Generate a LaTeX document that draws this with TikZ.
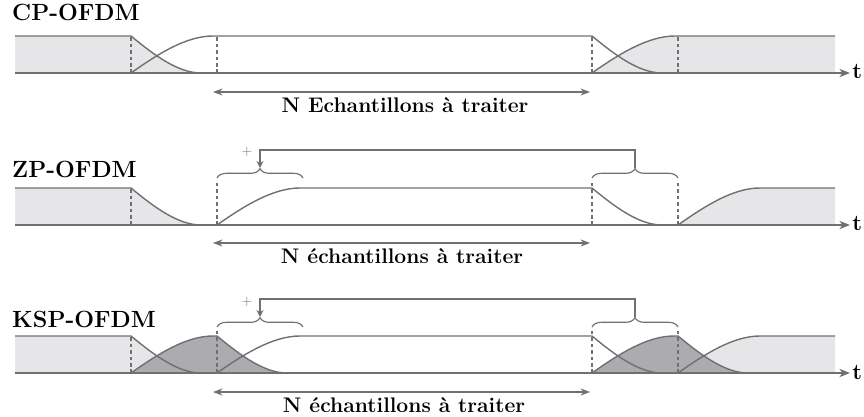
\documentclass[tikz,border=0pt]{standalone}
\usepackage{tikz}
\usetikzlibrary{arrows.meta,decorations.pathreplacing,positioning}

\definecolor{lightfill}{RGB}{230,230,232}
\definecolor{darkfill}{RGB}{172,172,176}
\definecolor{linegray}{RGB}{112,112,112}

\begin{document}
\begin{tikzpicture}[x=0.3mm,y=0.3mm,
        envelope/.style={draw=linegray,line width=1.2pt},
        cutline/.style={draw=linegray,line width=1.4pt,dash pattern=on 3pt off 2.5pt},
        timeaxis/.style={draw=linegray,line width=1.2pt,-{Stealth[length=9pt,width=7pt,inset=2.5pt]}},
        spanarrow/.style={draw=linegray,line width=1.2pt,
            {Stealth[length=8pt,width=6pt,inset=2.5pt]}-{Stealth[length=8pt,width=6pt,inset=2.5pt]}},
        curly/.style={draw=linegray,line width=1pt,decorate,decoration={brace,amplitude=8pt}},
        feedback/.style={draw=linegray,line width=1.2pt,-{Stealth[length=6pt,width=6pt,inset=2pt]}},
        rowlabel/.style={font=\fontsize{20}{22}\selectfont\bfseries,anchor=west,inner sep=0pt},
        spanlabel/.style={font=\fontsize{18}{20}\selectfont\bfseries,inner sep=0pt},
        tlabel/.style={font=\fontsize{19}{21}\selectfont\bfseries,anchor=west,inner sep=0pt},
        plus/.style={font=\large,text=linegray,inner sep=0pt}]
    \useasboundingbox (0,0) rectangle (864,416);

    % CP-OFDM
    \begin{scope}[shift={(0,343)},name prefix=cp-]
        \fill[lightfill] (15,0) -- (15,37) -- (131,37) .. controls +(23,-19) and +(-23,0) .. (201,0) -- cycle;
        \fill[lightfill] (592,0) .. controls +(27,19) and +(-27,0) .. (675,37) -- (835,37) -- (835,0) -- cycle;
        \draw[envelope] (15,37) -- (131,37) .. controls +(23,-19) and +(-23,0) .. (201,0);
        \draw[envelope] (131,0) .. controls +(27,19) and +(-27,0) .. (213,37) -- (592,37)
            .. controls +(23,-19) and +(-23,0) .. (662,0);
        \draw[envelope] (592,0) .. controls +(27,19) and +(-27,0) .. (675,37) -- (835,37);
        \foreach \x in {131,217,592,678}
            \draw[cutline] (\x,0) -- (\x,37);
        \coordinate (t0) at (15,0);
        \coordinate (t1) at (850,0);
        \draw[timeaxis] (t0) -- (t1);
        \node[tlabel] (t) at (852,1) {t};
        \node[rowlabel] (name) at (12,61) {CP-OFDM};
        \coordinate (n0) at (213,-19);
        \coordinate (n1) at (590,-19);
        \draw[spanarrow] (n0) -- (n1);
        \node[spanlabel] (n) at (405,-32) {N Echantillons à traiter};
    \end{scope}

    % ZP-OFDM
    \begin{scope}[shift={(0,191)},name prefix=zp-]
        \fill[lightfill] (15,0) -- (15,37) -- (131,37) .. controls +(23,-19) and +(-23,0) .. (201,0) -- cycle;
        \fill[lightfill] (678,0) .. controls +(27,19) and +(-27,0) .. (760,37) -- (835,37) -- (835,0) -- cycle;
        \draw[envelope] (15,37) -- (131,37) .. controls +(23,-19) and +(-23,0) .. (201,0);
        \draw[envelope] (217,0) .. controls +(27,19) and +(-27,0) .. (300,37) -- (592,37)
            .. controls +(23,-19) and +(-23,0) .. (662,0);
        \draw[envelope] (678,0) .. controls +(27,19) and +(-27,0) .. (760,37) -- (835,37);
        \draw[cutline] (131,0) -- (131,37);
        \foreach \x in {217,592,678}
            \draw[cutline] (\x,0) -- (\x,44);
        \coordinate (t0) at (15,0);
        \coordinate (t1) at (850,0);
        \draw[timeaxis] (t0) -- (t1);
        \node[tlabel] (t) at (852,1) {t};
        \node[rowlabel] (name) at (12,56) {ZP-OFDM};
        % tail added back onto the start
        \draw[curly] (217,47) -- (303,47);
        \draw[curly] (592,47) -- (678,47);
        \coordinate (head) at (260,57);
        \coordinate (tail) at (635,57);
        \draw[feedback] (tail) -- ++(0,18) -| (head);
        \node[plus] (add) at (247,73) {+};
        \coordinate (n0) at (213,-18);
        \coordinate (n1) at (590,-18);
        \draw[spanarrow] (n0) -- (n1);
        \node[spanlabel] (n) at (402,-31) {N échantillons à traiter};
    \end{scope}

    % KSP-OFDM
    \begin{scope}[shift={(0,43)},name prefix=ksp-]
        \fill[lightfill] (15,0) -- (15,37) -- (131,37) .. controls +(23,-19) and +(-23,0) .. (201,0) -- cycle;
        \fill[lightfill] (678,0) .. controls +(27,19) and +(-27,0) .. (760,37) -- (835,37) -- (835,0) -- cycle;
        \fill[darkfill] (131,0) .. controls +(27,19) and +(-27,0) .. (213,37) -- (217,37)
            .. controls +(23,-19) and +(-23,0) .. (287,0) -- cycle;
        \fill[darkfill] (592,0) .. controls +(27,19) and +(-27,0) .. (674,37) -- (678,37)
            .. controls +(23,-19) and +(-23,0) .. (748,0) -- cycle;
        \draw[envelope] (15,37) -- (131,37) .. controls +(23,-19) and +(-23,0) .. (201,0);
        \draw[envelope] (131,0) .. controls +(27,19) and +(-27,0) .. (213,37) -- (217,37)
            .. controls +(23,-19) and +(-23,0) .. (287,0);
        \draw[envelope] (217,0) .. controls +(27,19) and +(-27,0) .. (300,37) -- (592,37)
            .. controls +(23,-19) and +(-23,0) .. (662,0);
        \draw[envelope] (592,0) .. controls +(27,19) and +(-27,0) .. (674,37) -- (678,37)
            .. controls +(23,-19) and +(-23,0) .. (748,0);
        \draw[envelope] (678,0) .. controls +(27,19) and +(-27,0) .. (760,37) -- (835,37);
        \draw[cutline] (131,0) -- (131,37);
        \foreach \x in {217,592,678}
            \draw[cutline] (\x,0) -- (\x,42);
        \coordinate (t0) at (15,0);
        \coordinate (t1) at (850,0);
        \draw[timeaxis] (t0) -- (t1);
        \node[tlabel] (t) at (852,1) {t};
        \node[rowlabel] (name) at (12,54) {KSP-OFDM};
        \draw[curly] (217,46) -- (303,46);
        \draw[curly] (592,46) -- (678,46);
        \coordinate (head) at (260,56);
        \coordinate (tail) at (635,56);
        \draw[feedback] (tail) -- ++(0,18) -| (head);
        \node[plus] (add) at (247,71) {+};
        \coordinate (n0) at (213,-19);
        \coordinate (n1) at (590,-19);
        \draw[spanarrow] (n0) -- (n1);
        \node[spanlabel] (n) at (404,-32) {N échantillons à traiter};
    \end{scope}
\end{tikzpicture}
\end{document}
